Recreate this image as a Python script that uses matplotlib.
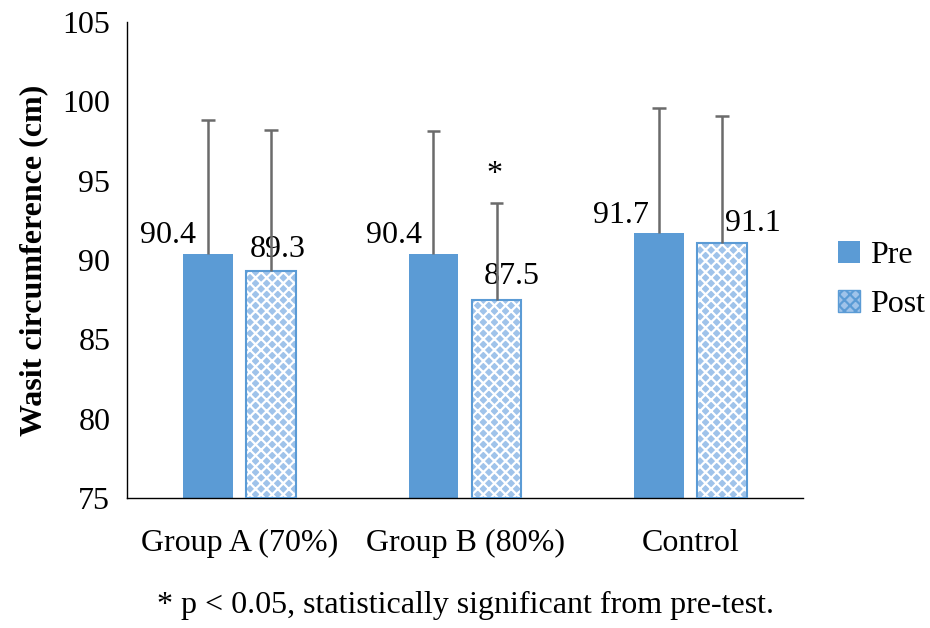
import matplotlib
matplotlib.use("Agg")
import matplotlib.pyplot as plt
import numpy as np
from matplotlib.patches import Patch

plt.rcParams['font.family'] = ['Liberation Serif', 'DejaVu Serif']
plt.rcParams['hatch.linewidth'] = 1.6

categories = ["Group A (70%)", "Group B (80%)", "Control"]
pre_values = [90.4, 90.4, 91.7]
post_values = [89.3, 87.5, 91.1]
pre_sd = [8.4, 7.7, 7.9]
post_sd = [8.9, 6.1, 8.0]
significant_post = [False, True, False]
series_names = ["Pre", "Post"]
footnote = "* p < 0.05, statistically significant from pre-test."
y_label = "Wasit circumference (cm)"

pre_color = "#5B9BD5"
post_face = "#9FC3EA"
err_color = "#6b6b6b"
FS = 23

fig = plt.figure(figsize=(9.3, 6.28), dpi=100)
ax = fig.add_axes([127/930, 1 - 498/628, (803-127)/930, (498-22)/628])

x = np.arange(len(categories))
w = 0.22
off = 0.14
cap = 0.03
ymin = 75

pre_h = [v - ymin for v in pre_values]
post_h = [v - ymin for v in post_values]

ax.bar(x - off, pre_h, w, bottom=ymin, color=pre_color, zorder=2)
ax.bar(x + off, post_h, w, bottom=ymin, color=post_face, edgecolor="white",
       hatch="xxx", linewidth=0, zorder=2)
ax.bar(x + off, post_h, w, bottom=ymin, facecolor="none", edgecolor=pre_color,
       linewidth=1.5, zorder=3)

for xs, vals, sds in [(x - off, pre_values, pre_sd), (x + off, post_values, post_sd)]:
    tops = np.array(vals) + np.array(sds)
    ax.vlines(xs, vals, tops, color=err_color, linewidth=1.8, zorder=4)
    ax.hlines(tops, xs - cap, xs + cap, color=err_color, linewidth=1.8, zorder=4)

pre_offsets = [(-40, 18), (-39, 18), (-38, 18)]
post_offsets = [(7, 22), (15, 23), (31, 19)]
for i in range(len(categories)):
    ax.annotate(f"{pre_values[i]:.1f}", (x[i] - off, pre_values[i]), xytext=pre_offsets[i],
                textcoords="offset pixels", ha="center", va="center", fontsize=FS)
    ax.annotate(f"{post_values[i]:.1f}", (x[i] + off, post_values[i]), xytext=post_offsets[i],
                textcoords="offset pixels", ha="center", va="center", fontsize=FS)
    if significant_post[i]:
        ax.annotate("*", (x[i] + off, post_values[i] + post_sd[i]), xytext=(-2, 28),
                    textcoords="offset pixels", ha="center", va="center", fontsize=FS)

ax.set_xlim(-0.5, 2.5)
ax.set_ylim(75, 105)
ax.set_yticks(np.arange(75, 106, 5))
ax.set_xticks(x)
ax.set_xticklabels(categories)
ax.tick_params(axis="both", length=0, labelsize=FS)
ax.tick_params(axis="x", pad=22)
ax.tick_params(axis="y", pad=12)
for s in ["top", "right"]:
    ax.spines[s].set_visible(False)
ax.spines["left"].set_color("#000000")
ax.spines["bottom"].set_color("#000000")
ax.spines["left"].set_linewidth(1.0)
ax.spines["bottom"].set_linewidth(1.0)

ax.set_ylabel(y_label, fontsize=FS, fontweight="bold", labelpad=10)

handles = [Patch(facecolor=pre_color, label=series_names[0]),
           Patch(facecolor=post_face, edgecolor=pre_color, hatch="xxx", label=series_names[1])]
fig.legend(handles=handles, loc="center left", bbox_to_anchor=(838/930, 1 - 280/628),
           frameon=False, fontsize=FS, handlelength=0.7, handleheight=0.7,
           labelspacing=0.6, handletextpad=0.3, borderpad=0, borderaxespad=0)

fig.text(465/930, 1 - 605/628, footnote, ha="center", va="center", fontsize=FS)

fig.savefig("out.png", dpi=100)
